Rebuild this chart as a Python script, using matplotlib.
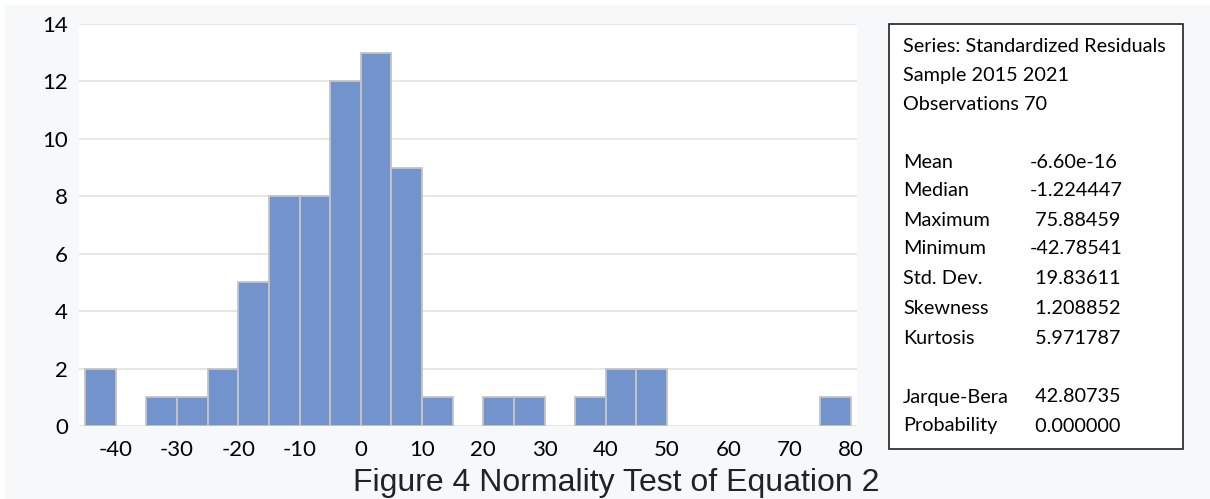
import numpy as np
import matplotlib
matplotlib.use("Agg")
import matplotlib.pyplot as plt
from matplotlib.patches import Rectangle

# Histogram of residuals: bin edges (width 5) and counts per bin
bin_edges = list(range(-45, 85, 5))
counts = [2, 0, 1, 1, 2, 5, 8, 8, 12, 13, 9, 1, 0, 1, 1, 0, 1, 2, 2, 0, 0, 0, 0, 0, 1]
x_ticks = [-40, -30, -20, -10, 0, 10, 20, 30, 40, 50, 60, 70, 80]
y_ticks = [0, 2, 4, 6, 8, 10, 12, 14]

header_lines = ["Series: Standardized Residuals", "Sample 2015 2021", "Observations 70"]
stat_names = ["Mean", "Median", "Maximum", "Minimum", "Std. Dev.", "Skewness", "Kurtosis"]
stat_values = ["-6.60e-16", "-1.224447", " 75.88459", "-42.78541", " 19.83611", " 1.208852", " 5.971787"]
test_names = ["Jarque-Bera", "Probability"]
test_values = [" 42.80735", " 0.000000"]

caption = "Figure 4 Normality Test of Equation 2"

plt.rcParams["axes.unicode_minus"] = False

W, H = 1210, 499
fig = plt.figure(figsize=(W / 100, H / 100), dpi=100, facecolor="white")

# light panel behind everything
fig.patches.append(Rectangle((5 / W, 0), 1, 1 - 5 / H, transform=fig.transFigure,
                             facecolor="#f7f8fa", edgecolor="none", zorder=-10))

ax = fig.add_axes([79 / W, 1 - 426 / H, (857 - 79) / W, (426 - 24) / H])
ax.set_facecolor("white")

lefts = np.array(bin_edges[:-1])
heights = np.array(counts)
mask = heights > 0
ax.bar(lefts[mask], heights[mask], width=5, align="edge", color="#7393cc",
       edgecolor="#c4c4c4", linewidth=1.3, zorder=3)

ax.set_xlim(-46, 81)
ax.set_ylim(0, 14)
ax.set_xticks(x_ticks)
ax.set_yticks(y_ticks)
ax.grid(axis="y", color="#e3e3e3", linewidth=1.2, zorder=0)
for s in ax.spines.values():
    s.set_visible(False)
ax.tick_params(length=0, labelsize=16, colors="black")
ax.tick_params(axis="x", pad=10)
ax.tick_params(axis="y", pad=8)
for lab in ax.get_xticklabels() + ax.get_yticklabels():
    lab.set_family("Lato")

# statistics box
fig.patches.append(Rectangle((889 / W, 1 - 449 / H), (1183 - 889) / W, (449 - 24) / H,
                             transform=fig.transFigure, facecolor="white",
                             edgecolor="#222222", linewidth=1.2, zorder=1))

def fy(py):
    return 1 - py / H

fs = 14.3
tx, vx = 903 / W, 1030 / W
ys = [46, 75, 104]
for line, py in zip(header_lines, ys):
    fig.text(tx, fy(py), line, family="Lato", fontsize=fs, va="center", ha="left")
stat_ys = [162, 191, 220, 249, 278, 308, 338]
for name, val, py in zip(stat_names, stat_values, stat_ys):
    fig.text(tx, fy(py), name, family="Lato", fontsize=fs, va="center", ha="left")
    fig.text(vx, fy(py), val, family="Lato", fontsize=fs, va="center", ha="left")
for name, val, py in zip(test_names, test_values, [397, 426]):
    fig.text(tx, fy(py), name, family="Lato", fontsize=fs, va="center", ha="left")
    fig.text(vx, fy(py), val, family="Lato", fontsize=fs, va="center", ha="left")

fig.text(616 / W, fy(483), caption, family="Liberation Sans", fontsize=23,
         color="#222222", ha="center", va="center")

fig.savefig("out.png", dpi=100, facecolor=fig.get_facecolor())
